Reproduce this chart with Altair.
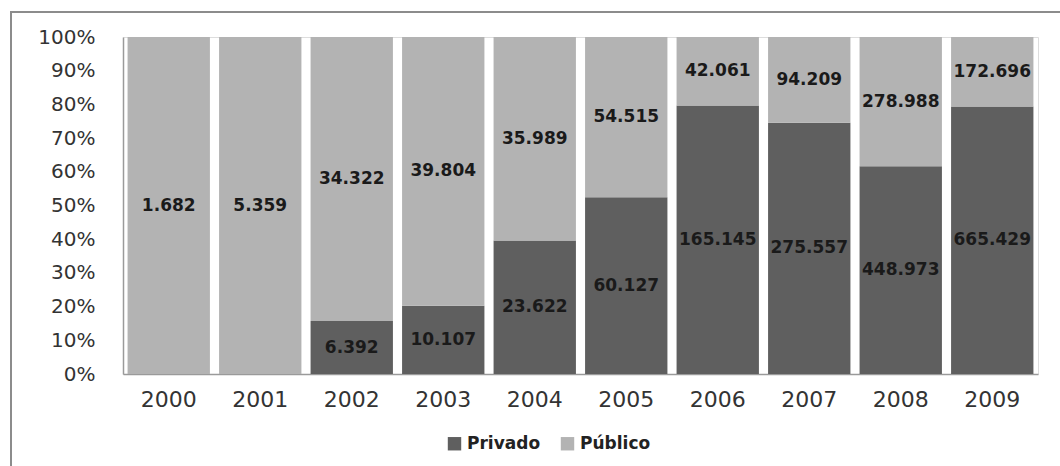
import altair as alt
import pandas as pd

years = ["2000", "2001", "2002", "2003", "2004", "2005", "2006", "2007", "2008", "2009"]
privado = [0, 0, 6392, 10107, 23622, 60127, 165145, 275557, 448973, 665429]
publico = [1682, 5359, 34322, 39804, 35989, 54515, 42061, 94209, 278988, 172696]
series = ["Privado", "Público"]
colors = ["#5f5f5f", "#b3b3b3"]
pct_ticks = [0, 0.1, 0.2, 0.3, 0.4, 0.5, 0.6, 0.7, 0.8, 0.9, 1.0]


def fmt(v):
    # thousands separated with a dot
    return f"{v:,}".replace(",", ".")


rows = []
for i, y in enumerate(years):
    for k, (name, vals) in enumerate(zip(series, [privado, publico])):
        v = vals[i]
        rows.append({"year": y, "serie": name, "order": k, "value": v,
                     "label": fmt(v) if v > 0 else ""})
df = pd.DataFrame(rows)

W, H = 915, 337

base = alt.Chart(df).transform_stack(
    stack="value",
    groupby=["year"],
    as_=["y0", "y1"],
    offset="normalize",
    sort=[alt.SortField("order", order="ascending")],
).transform_calculate(mid="(datum.y0 + datum.y1) / 2")

x_scale = alt.Scale(paddingInner=0.1, paddingOuter=0.05)
y_scale = alt.Scale(domain=[0, 1], nice=False)
x_axis = alt.Axis(title=None, labelAngle=0, ticks=False, labelFontSize=22,
                  labelPadding=15, labelColor="#333333", domainColor="#9a9a9a",
                  domainWidth=1.5, labelFont="DejaVu Sans")
y_axis = alt.Axis(title=None, format=".0%", values=pct_ticks,
                  ticks=False, grid=False, labelFontSize=20, labelPadding=28,
                  labelOverlap=False, labelColor="#333333",
                  domainColor="#9a9a9a", domainWidth=1.5,
                  labelFont="DejaVu Sans")

bars = base.mark_bar().encode(
    x=alt.X("year:N", sort=years, scale=x_scale, axis=x_axis),
    y=alt.Y("y0:Q", scale=y_scale, axis=y_axis),
    y2="y1:Q",
    color=alt.Color(
        "serie:N",
        scale=alt.Scale(domain=series, range=colors),
        legend=alt.Legend(
            title=None, orient="none", direction="horizontal",
            legendX=323, legendY=398, symbolType="square", symbolSize=180,
            symbolStrokeWidth=0, labelFontSize=17, labelFontWeight="bold",
            labelColor="#222222", labelFont="DejaVu Sans", columnPadding=18,
            labelOffset=4,
        ),
    ),
)

labels = base.transform_filter("datum.value > 0").mark_text(
    fontSize=17, fontWeight=600, font="DejaVu Sans", color="#1a1a1a"
).encode(
    x=alt.X("year:N", sort=years, scale=x_scale, axis=x_axis),
    y=alt.Y("mid:Q", scale=y_scale, axis=y_axis),
    text="label:N",
)

# outer frame around the whole figure
frame = alt.Chart(df).mark_rect(
    fill=None, stroke="#8c8c8c", strokeWidth=2, clip=False
).encode(
    x=alt.value(-112), x2=alt.value(W + 60),
    y=alt.value(-25), y2=alt.value(H + 120),
)

chart = alt.layer(frame, bars, labels).properties(
    width=W, height=H,
    autosize=alt.AutoSizeParams(type="none"),
    padding={"left": 123, "top": 37, "right": 22, "bottom": 92},
).configure_view(stroke=None).configure(background="white")

chart.save("out.html", embed_options={"renderer": "svg", "actions": False})
